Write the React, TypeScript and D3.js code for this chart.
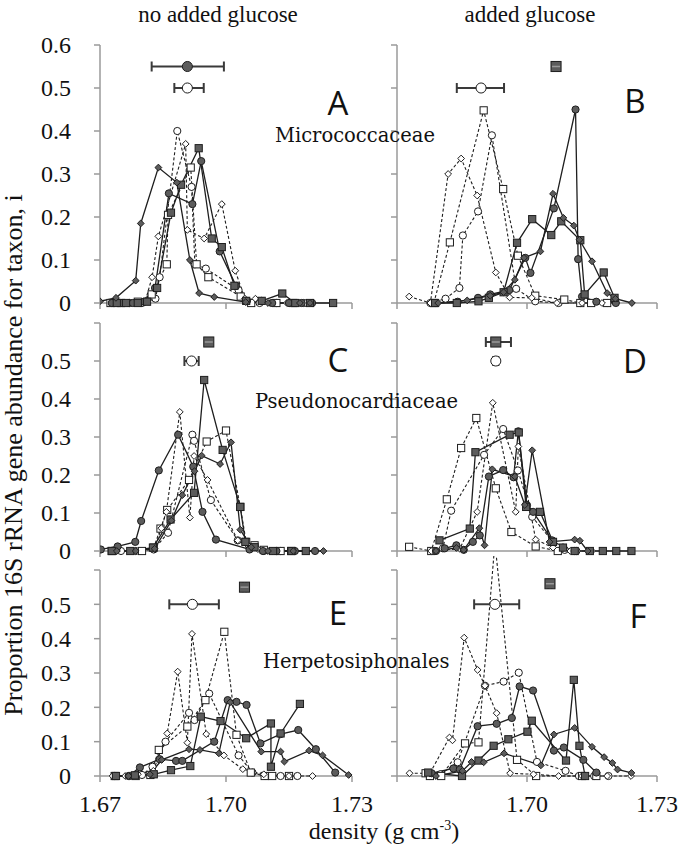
import React from 'react';
import * as d3 from 'd3';

type Pt = [number, number];

// column titles, axis text
const colTitles = ['no added glucose', 'added glucose'];
const taxa = ['Micrococcaceae', 'Pseudonocardiaceae', 'Herpetosiphonales'];
const panelLetters = ['A', 'B', 'C', 'D', 'E', 'F'];
const densityTicks = [1.67, 1.70, 1.73];
const abundanceTicks = [0, 0.1, 0.2, 0.3, 0.4, 0.5, 0.6];

// Panel A: Micrococcaceae, no added glucose
const aFilledCircle: Pt[] = [[1.6728,0],[1.6752,0],[1.6778,0],[1.6805,0.003],[1.6831,0.035],[1.6864,0.255],[1.6920,0.23],[1.6941,0.33],[1.6985,0.12],[1.7024,0.04],[1.7050,0.005],[1.7085,0.005],[1.7110,0],[1.7150,0],[1.7180,0],[1.7205,0]];
const aFilledSquare: Pt[] = [[1.6740,0],[1.6762,0],[1.6790,0],[1.6812,0.003],[1.6836,0.035],[1.6869,0.21],[1.6893,0.275],[1.6935,0.36],[1.6966,0.15],[1.6990,0.13],[1.7020,0.04],[1.7048,0.005],[1.7085,0.005],[1.7134,0.022],[1.7165,0],[1.7200,0],[1.7255,0]];
const aFilledDiamond: Pt[] = [[1.6700,0.004],[1.6738,0.012],[1.6785,0.052],[1.6797,0.185],[1.6839,0.315],[1.6883,0.28],[1.6914,0.10],[1.6936,0.023],[1.6972,0.014],[1.7047,0.002],[1.7100,0],[1.7176,0],[1.7200,0]];
const aOpenCircle: Pt[] = [[1.6745,0],[1.6770,0],[1.6800,0],[1.6832,0.01],[1.6842,0.06],[1.6884,0.40],[1.6918,0.27],[1.6926,0.09],[1.6952,0.08],[1.7030,0.03],[1.7047,0.005],[1.7080,0],[1.7120,0],[1.7185,0]];
const aOpenSquare: Pt[] = [[1.6725,0],[1.6750,0],[1.6790,0.003],[1.6823,0.02],[1.6859,0.09],[1.6862,0.205],[1.6916,0.315],[1.6930,0.09],[1.6958,0.06],[1.7035,0.015],[1.7060,0],[1.7120,0],[1.7160,0]];
const aOpenDiamond: Pt[] = [[1.6735,0],[1.6775,0],[1.6808,0.005],[1.6824,0.06],[1.6839,0.155],[1.6904,0.37],[1.6908,0.17],[1.6948,0.15],[1.6990,0.23],[1.7022,0.075],[1.7045,0.01],[1.7070,0.01],[1.7105,0],[1.7145,0],[1.7190,0]];

// Panel B: Micrococcaceae, added glucose
const bFilledCircle: Pt[] = [[1.6788,0],[1.6840,0.003],[1.6887,0.012],[1.6915,0.02],[1.6959,0.03],[1.6996,0.105],[1.7008,0.07],[1.7062,0.22],[1.7112,0.45],[1.7118,0.102],[1.7127,0.015],[1.7160,0.003],[1.7205,0]];
const bFilledSquare: Pt[] = [[1.6788,0],[1.6838,0],[1.6888,0.004],[1.6912,0.012],[1.6946,0.025],[1.6977,0.14],[1.7012,0.195],[1.7056,0.158],[1.7079,0.19],[1.7123,0.146],[1.7133,0.02],[1.7177,0.071],[1.7202,0.012]];
const bFilledDiamond: Pt[] = [[1.6795,0],[1.6862,0.006],[1.6915,0.017],[1.6946,0.025],[1.6972,0.054],[1.6993,0.105],[1.7031,0.12],[1.7060,0.254],[1.7084,0.198],[1.7108,0.18],[1.7121,0.147],[1.7150,0.097],[1.7185,0.023],[1.7204,0.01],[1.7242,0]];
const bOpenCircle: Pt[] = [[1.6777,0],[1.6812,0.01],[1.6844,0.035],[1.6852,0.157],[1.6887,0.213],[1.6919,0.39],[1.6975,0.033],[1.7019,0.004],[1.7073,0],[1.7123,0],[1.7185,0]];
const bOpenSquare: Pt[] = [[1.6785,0],[1.6822,0.141],[1.6900,0.448],[1.6945,0.265],[1.6979,0.11],[1.7019,0.017],[1.7086,0.008],[1.7123,0],[1.7148,0],[1.7185,0]];
const bOpenDiamond: Pt[] = [[1.6728,0.015],[1.6777,0],[1.6818,0.30],[1.6848,0.336],[1.6885,0.25],[1.6928,0.071],[1.6960,0.013],[1.7011,0.012],[1.7069,0],[1.7127,0],[1.7173,0]];

// Panel C: Pseudonocardiaceae, no added glucose
const cFilledCircle: Pt[] = [[1.6702,0.004],[1.6742,0.012],[1.6784,0.024],[1.6798,0.079],[1.6840,0.212],[1.6886,0.306],[1.6922,0.222],[1.6944,0.103],[1.6976,0.03],[1.7056,0.004],[1.7088,0],[1.7120,0],[1.7164,0],[1.7212,0]];
const cFilledSquare: Pt[] = [[1.6728,0],[1.6772,0],[1.6826,0.009],[1.6868,0.083],[1.6924,0.153],[1.6948,0.45],[1.6992,0.266],[1.7034,0.116],[1.7046,0.024],[1.7068,0.01],[1.7112,0],[1.7156,0],[1.7190,0]];
const cFilledDiamond: Pt[] = [[1.6740,0],[1.6785,0],[1.6830,0.006],[1.6870,0.08],[1.6896,0.147],[1.6925,0.21],[1.6942,0.251],[1.6986,0.229],[1.7012,0.286],[1.7034,0.056],[1.7060,0.01],[1.7100,0],[1.7160,0],[1.7232,0]];
const cOpenCircle: Pt[] = [[1.6750,0],[1.6785,0],[1.6828,0.004],[1.6862,0.048],[1.6920,0.306],[1.6924,0.29],[1.6964,0.134],[1.7028,0.028],[1.7056,0.01],[1.7090,0],[1.7130,0]];
const cOpenSquare: Pt[] = [[1.6728,0],[1.6800,0],[1.6828,0.009],[1.6844,0.059],[1.6860,0.108],[1.6912,0.187],[1.6954,0.288],[1.7000,0.317],[1.7034,0.116],[1.7048,0.024],[1.7068,0.015],[1.7090,0.003],[1.7130,0],[1.7155,0]];
const cOpenDiamond: Pt[] = [[1.6740,0],[1.6830,0.006],[1.6846,0.06],[1.6858,0.103],[1.6890,0.366],[1.6914,0.088],[1.6924,0.25],[1.6956,0.187],[1.7028,0.028],[1.7052,0.015],[1.7076,0.005],[1.7110,0]];

// Panel D: Pseudonocardiaceae, added glucose
const dFilledCircle: Pt[] = [[1.6790,0],[1.6810,0.007],[1.6837,0.015],[1.6854,0.003],[1.6875,0.024],[1.6891,0.041],[1.6912,0.196],[1.6945,0.213],[1.6969,0.194],[1.6980,0.315],[1.7000,0.12],[1.7014,0.103],[1.7058,0.028],[1.7083,0.009],[1.7110,0]];
const dFilledSquare: Pt[] = [[1.6798,0.028],[1.6868,0.059],[1.6881,0.26],[1.6960,0.306],[1.6981,0.312],[1.6998,0.116],[1.7030,0.103],[1.7060,0.024],[1.7083,0.009],[1.7110,0],[1.7145,0],[1.7175,0],[1.7206,0],[1.7241,0]];
const dFilledDiamond: Pt[] = [[1.6790,0],[1.6837,0.008],[1.6854,0.003],[1.6890,0.06],[1.6902,0.015],[1.6920,0.215],[1.6972,0.196],[1.6995,0.121],[1.7012,0.265],[1.7052,0.024],[1.7110,0.03],[1.7122,0.027],[1.7140,0]];
const dOpenCircle: Pt[] = [[1.6779,0],[1.6806,0.007],[1.6825,0.106],[1.6901,0.253],[1.6945,0.321],[1.6979,0.212],[1.7012,0.09],[1.7071,0.009],[1.7087,0.003],[1.7114,0]];
const dOpenSquare: Pt[] = [[1.6728,0.011],[1.6779,0],[1.6815,0.136],[1.6848,0.271],[1.6883,0.35],[1.6928,0.165],[1.6964,0.05],[1.7020,0.012],[1.7071,0]];
const dOpenDiamond: Pt[] = [[1.6779,0],[1.6845,0.006],[1.6885,0.103],[1.6921,0.39],[1.6974,0.103],[1.6980,0.275],[1.7020,0.03],[1.7060,0.009],[1.7100,0],[1.7150,0]];

// Panel E: Herpetosiphonales, no added glucose
const eFilledCircle: Pt[] = [[1.6738,0],[1.6768,0],[1.6795,0.025],[1.6842,0.049],[1.6881,0.044],[1.6896,0.044],[1.6972,0.10],[1.7004,0.221],[1.7025,0.216],[1.7049,0.207],[1.7082,0.095],[1.7130,0.122],[1.7172,0.134],[1.7214,0.078],[1.7260,0.01]];
const eFilledSquare: Pt[] = [[1.6738,0],[1.6783,0.002],[1.6828,0.005],[1.6869,0.017],[1.6915,0.029],[1.6940,0.173],[1.6987,0.16],[1.7048,0.11],[1.7107,0.153],[1.7107,0.027],[1.7130,0.124],[1.7176,0.21]];
const eFilledDiamond: Pt[] = [[1.6768,0],[1.6819,0.005],[1.6847,0.047],[1.6912,0.078],[1.6938,0.076],[1.6983,0.066],[1.7010,0.215],[1.7084,0.071],[1.7130,0.071],[1.7139,0.042],[1.7198,0.074],[1.7230,0.06],[1.7292,0.003]];
const eOpenCircle: Pt[] = [[1.6735,0],[1.6770,0],[1.6800,0.003],[1.6825,0.027],[1.6856,0.10],[1.6912,0.184],[1.6925,0.163],[1.6960,0.24],[1.7030,0.06],[1.7063,0.01],[1.7093,0],[1.7130,0],[1.7170,0]];
const eOpenSquare: Pt[] = [[1.6735,0],[1.6785,0],[1.6820,0.003],[1.6840,0.076],[1.6908,0.144],[1.6951,0.221],[1.6996,0.42],[1.7025,0.12],[1.7059,0.01],[1.7092,0],[1.7110,0],[1.7150,0]];
const eOpenDiamond: Pt[] = [[1.6730,0],[1.6760,0],[1.6790,0.005],[1.6827,0.015],[1.6860,0.124],[1.6885,0.304],[1.6908,0.097],[1.6919,0.414],[1.6953,0.122],[1.6995,0.06],[1.7040,0.02],[1.7090,0.005],[1.7150,0],[1.7206,0]];

// Panel F: Herpetosiphonales, added glucose
const fFilledCircle: Pt[] = [[1.6780,0.008],[1.6830,0.022],[1.6845,0.019],[1.6886,0.145],[1.6930,0.152],[1.6965,0.169],[1.6983,0.261],[1.7014,0.249],[1.7062,0.074],[1.7085,0.083],[1.7130,0.047],[1.7160,0.01]];
const fFilledSquare: Pt[] = [[1.6772,0.01],[1.6850,0],[1.6888,0.045],[1.6923,0.088],[1.6957,0.107],[1.7001,0.129],[1.7011,0.161],[1.7090,0.045],[1.7108,0.28],[1.7121,0.088],[1.7134,0]];
const fFilledDiamond: Pt[] = [[1.6790,0],[1.6851,0.015],[1.6872,0.041],[1.6900,0.04],[1.6947,0.066],[1.7032,0.031],[1.7062,0.121],[1.7110,0.14],[1.7150,0.085],[1.7178,0.055],[1.7197,0.038],[1.7209,0.019],[1.7241,0.009]];
const fOpenCircle: Pt[] = [[1.6776,0],[1.6800,0.005],[1.6840,0.04],[1.6903,0.263],[1.6946,0.275],[1.6981,0.301],[1.7023,0.041],[1.7089,0.015],[1.7120,0],[1.7155,0],[1.7188,0]];
const fOpenSquare: Pt[] = [[1.6766,0.008],[1.6776,0],[1.6802,0],[1.6857,0.095],[1.6888,0.098],[1.6926,0.68],[1.6977,0.047],[1.7021,0],[1.7127,0],[1.7160,0]];
const fOpenDiamond: Pt[] = [[1.6729,0.008],[1.6776,0.008],[1.6821,0.112],[1.6828,0.104],[1.6855,0.403],[1.6886,0.309],[1.6903,0.263],[1.6930,0.183],[1.6961,0.008],[1.7015,0.005],[1.7073,0],[1.7127,0],[1.7185,0],[1.7240,0]];

// mean buoyant density +/- error: [centre, low, high, abundance]
const aMeanFilled = [1.6908, 1.6823, 1.6995, 0.55];
const aMeanOpen = [1.6908, 1.6877, 1.6947, 0.50];
const bMeanFilled = [1.7067, 1.7062, 1.7072, 0.55];
const bMeanOpen = [1.6894, 1.6838, 1.6947, 0.50];
const cMeanFilled = [1.6959, 1.6955, 1.6963, 0.55];
const cMeanOpen = [1.6918, 1.6901, 1.6935, 0.50];
const dMeanFilled = [1.6928, 1.6905, 1.6963, 0.55];
const dMeanOpen = [1.6928, 1.6922, 1.6934, 0.50];
const eMeanFilled = [1.7044, 1.7040, 1.7048, 0.55];
const eMeanOpen = [1.6920, 1.6865, 1.6983, 0.50];
const fMeanFilled = [1.7053, 1.7049, 1.7057, 0.56];
const fMeanOpen = [1.6926, 1.6878, 1.6982, 0.50];

type Shape = 'circle' | 'square' | 'diamond';
type Series = { pts: Pt[]; shape: Shape; filled: boolean };

const mk = (c: Pt[], s: Pt[], d: Pt[], oc: Pt[], os: Pt[], od: Pt[]): Series[] => [
  { pts: oc, shape: 'circle', filled: false },
  { pts: os, shape: 'square', filled: false },
  { pts: od, shape: 'diamond', filled: false },
  { pts: c, shape: 'circle', filled: true },
  { pts: s, shape: 'square', filled: true },
  { pts: d, shape: 'diamond', filled: true },
];

const panels = [
  { row: 0, col: 0, series: mk(aFilledCircle, aFilledSquare, aFilledDiamond, aOpenCircle, aOpenSquare, aOpenDiamond), filledMean: aMeanFilled, filledMeanShape: 'circle', openMean: aMeanOpen },
  { row: 0, col: 1, series: mk(bFilledCircle, bFilledSquare, bFilledDiamond, bOpenCircle, bOpenSquare, bOpenDiamond), filledMean: bMeanFilled, filledMeanShape: 'square', openMean: bMeanOpen },
  { row: 1, col: 0, series: mk(cFilledCircle, cFilledSquare, cFilledDiamond, cOpenCircle, cOpenSquare, cOpenDiamond), filledMean: cMeanFilled, filledMeanShape: 'square', openMean: cMeanOpen },
  { row: 1, col: 1, series: mk(dFilledCircle, dFilledSquare, dFilledDiamond, dOpenCircle, dOpenSquare, dOpenDiamond), filledMean: dMeanFilled, filledMeanShape: 'square', openMean: dMeanOpen },
  { row: 2, col: 0, series: mk(eFilledCircle, eFilledSquare, eFilledDiamond, eOpenCircle, eOpenSquare, eOpenDiamond), filledMean: eMeanFilled, filledMeanShape: 'square', openMean: eMeanOpen },
  { row: 2, col: 1, series: mk(fFilledCircle, fFilledSquare, fFilledDiamond, fOpenCircle, fOpenSquare, fOpenDiamond), filledMean: fMeanFilled, filledMeanShape: 'square', openMean: fMeanOpen },
];

// layout
const cols = [{ x0: 100, x1: 352 }, { x0: 397, x1: 657 }];
const rows = [{ y0: 303, y6: 45 }, { y0: 551, y6: 323 }, { y0: 776, y6: 570 }];
const letterPos = [[338, 115], [635, 113], [338, 372], [635, 373], [338, 625], [638, 628]];
const taxonPos = [[275, 142], [255, 408], [263, 668]];

const serif = "Liberation Serif, Times New Roman, Times, serif";
const axisColor = '#9a9a9a';
const ink = '#1e1e1e';
const grey = '#5c5c5c';

function Marker({ x, y, shape, filled, size = 1 }: { x: number; y: number; shape: Shape; filled: boolean; size?: number }) {
  const fill = filled ? grey : '#fff';
  const sw = 1;
  if (shape === 'circle') {
    return <circle cx={x} cy={y} r={3.6 * size} fill={fill} stroke={ink} strokeWidth={sw} />;
  }
  if (shape === 'square') {
    const h = 3.6 * size;
    return <rect x={x - h} y={y - h} width={2 * h} height={2 * h} fill={fill} stroke={ink} strokeWidth={sw} />;
  }
  const h = 3.4 * size;
  return <path d={`M${x},${y - h}L${x + h},${y}L${x},${y + h}L${x - h},${y}Z`} fill={fill} stroke={ink} strokeWidth={sw} />;
}

function Panel({ p, idx }: { p: typeof panels[number]; idx: number }) {
  const { x0, x1 } = cols[p.col];
  const { y0, y6 } = rows[p.row];
  const x = d3.scaleLinear().domain([1.67, 1.73]).range([x0, x1]);
  const y = d3.scaleLinear().domain([0, 0.6]).range([y0, y6]);
  const line = d3.line<Pt>().x(d => x(d[0])).y(d => y(d[1]));
  const clipId = `clip-${idx}`;
  const [fc, flo, fhi, fv] = p.filledMean;
  const [oc, olo, ohi, ov] = p.openMean;

  return (
    <g>
      <defs>
        <clipPath id={clipId}>
          <rect x={x0} y={y6 - 14} width={x1 - x0 + 6} height={y0 - y6 + 24} />
        </clipPath>
      </defs>
      {/* axes */}
      <line x1={x0} x2={x0} y1={y(0)} y2={y(0.6)} stroke={axisColor} strokeWidth={1.5} />
      <line x1={x0} x2={x1} y1={y(0)} y2={y(0)} stroke={axisColor} strokeWidth={1.5} />
      {abundanceTicks.map(t => (
        <line key={t} x1={x0 - 6} x2={x0} y1={y(t)} y2={y(t)} stroke={axisColor} strokeWidth={1.5} />
      ))}
      {densityTicks.map(t => (
        <line key={t} x1={x(t)} x2={x(t)} y1={y(0)} y2={y(0) + 6} stroke={axisColor} strokeWidth={1.5} />
      ))}
      {p.col === 0 && abundanceTicks.filter(t => p.row === 0 || t < 0.55).map(t => (
        <text key={t} x={x0 - 29} y={y(t)} dy="0.35em" textAnchor="end" style={{ fontFamily: serif }} fontSize={24} fill="#111">
          {t === 0 ? '0' : t.toFixed(1)}
        </text>
      ))}
      {p.row === 2 && densityTicks.filter(t => p.col === 0 || t > 1.68).map(t => (
        <text key={t} x={x(t)} y={812} textAnchor="middle" style={{ fontFamily: serif }} fontSize={24} fill="#111">
          {t.toFixed(2)}
        </text>
      ))}

      {/* data */}
      <g clipPath={`url(#${clipId})`}>
        {p.series.map((s, i) => (
          <path key={i} d={line(s.pts) || ''} fill="none" stroke={ink}
            strokeWidth={s.filled ? 1.3 : 1.1} strokeDasharray={s.filled ? undefined : '3,2.2'} />
        ))}
        {p.series.map((s, i) => (
          <g key={i}>
            {s.pts.map((d, j) => (
              <Marker key={j} x={x(d[0])} y={y(d[1])} shape={s.shape} filled={s.filled} />
            ))}
          </g>
        ))}
      </g>

      {/* mean density with error bars */}
      <g stroke="#3a3a3a" strokeWidth={2}>
        <line x1={x(flo)} x2={x(fhi)} y1={y(fv)} y2={y(fv)} />
        <line x1={x(flo)} x2={x(flo)} y1={y(fv) - 5} y2={y(fv) + 5} />
        <line x1={x(fhi)} x2={x(fhi)} y1={y(fv) - 5} y2={y(fv) + 5} />
        <line x1={x(olo)} x2={x(ohi)} y1={y(ov)} y2={y(ov)} />
        <line x1={x(olo)} x2={x(olo)} y1={y(ov) - 5} y2={y(ov) + 5} />
        <line x1={x(ohi)} x2={x(ohi)} y1={y(ov) - 5} y2={y(ov) + 5} />
      </g>
      <Marker x={x(fc)} y={y(fv)} shape={p.filledMeanShape as Shape} filled size={1.4} />
      {p.filledMeanShape === 'square' && (
        <line x1={x(fc) - 4} x2={x(fc) + 4} y1={y(fv)} y2={y(fv)} stroke="#999" strokeWidth={1.5} />
      )}
      <Marker x={x(oc)} y={y(ov)} shape="circle" filled={false} size={1.4} />

      <text x={letterPos[idx][0]} y={letterPos[idx][1]} textAnchor="middle" style={{ fontFamily: "Open Sans, DejaVu Sans, sans-serif" }} fontSize={33} fill="#111">
        {panelLetters[idx]}
      </text>
    </g>
  );
}

export default function App() {
  return (
    <svg width={680} height={855} viewBox="0 0 680 855" style={{ position: 'absolute', left: 0, top: 0, background: '#fff' }}>
      <rect width={680} height={855} fill="#fff" />
      <text x={218} y={22} textAnchor="middle" style={{ fontFamily: serif }} fontSize={23} fill="#111">{colTitles[0]}</text>
      <text x={530} y={22} textAnchor="middle" style={{ fontFamily: serif }} fontSize={23} fill="#111">{colTitles[1]}</text>
      {panels.map((p, i) => <Panel key={i} p={p} idx={i} />)}
      {taxa.map((t, i) => (
        <text key={t} x={taxonPos[i][0]} y={taxonPos[i][1]} style={{ fontFamily: "DejaVu Serif, serif" }} fontSize={19.5} fill="#111">{t}</text>
      ))}
      <text transform="translate(22,455) rotate(-90)" textAnchor="middle" style={{ fontFamily: serif }} fontSize={26} fill="#111">
        Proportion 16S rRNA gene abundance for taxon, i
      </text>
      <text x={384} y={839} textAnchor="middle" style={{ fontFamily: serif }} fontSize={24} fill="#111">
        density (g cm<tspan dy={-9} fontSize={14}>-3</tspan><tspan dy={9}>)</tspan>
      </text>
    </svg>
  );
}
